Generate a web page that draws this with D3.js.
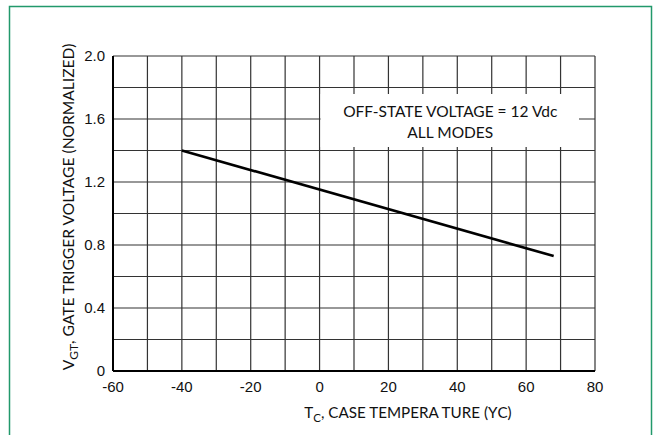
<!DOCTYPE html>
<html><head><meta charset="utf-8">
<script src="https://cdn.jsdelivr.net/npm/d3@7"></script>
<style>body{margin:0;background:#fff}svg{display:block}</style>
</head><body>
<svg id="c" width="659" height="435"></svg>
<script>
const tempC = [-40, 68];
const vgtNorm = [1.40, 0.73];
const xTicks = [-60, -40, -20, 0, 20, 40, 60, 80];
const yTicks = [0, 0.4, 0.8, 1.2, 1.6, 2.0];
const xGrid = d3.range(-50, 81, 10);
const yGrid = d3.range(0.2, 2.01, 0.2);
const noteLines = ["OFF-STATE VOLTAGE = 12 Vdc", "ALL MODES"];

const svg = d3.select("#c");
const x = d3.scaleLinear().domain([-60, 80]).range([113, 595]);
const y = d3.scaleLinear().domain([0, 2]).range([371, 56]);
const titleFont = "Lato, 'Noto Sans', sans-serif";
const tickFont = "'Liberation Sans', Arial, sans-serif";

// green frame
svg.append("rect").attr("x", 9.5).attr("y", 6.5).attr("width", 642).attr("height", 440)
  .attr("fill", "none").attr("stroke", "#22996b").attr("stroke-width", 1.5);

const g = svg.append("g");
// grid
g.selectAll(".vg").data(xGrid).join("line")
  .attr("x1", d => x(d)).attr("x2", d => x(d)).attr("y1", y(2)).attr("y2", y(0))
  .attr("stroke", "#333").attr("stroke-width", 1.2);
g.selectAll(".hg").data(yGrid).join("line")
  .attr("x1", x(-60)).attr("x2", x(80)).attr("y1", d => y(d)).attr("y2", d => y(d))
  .attr("stroke", "#333").attr("stroke-width", 1.2);

// note box
const bx0 = x(0), bx1 = 579, by0 = 94, by1 = 147;
g.append("rect").attr("x", bx0 + 1).attr("y", by0).attr("width", bx1 - bx0 - 1).attr("height", by1 - by0).attr("fill", "#fff");
g.selectAll(".note").data(noteLines).join("text")
  .attr("x", (bx0 + bx1) / 2 + 1).attr("y", (d, i) => 117 + i * 21)
  .attr("text-anchor", "middle").attr("font-family", titleFont).attr("font-size", 15.5)
  .attr("fill", "#111").text(d => d);

// axes lines (left & bottom thicker)
g.append("line").attr("x1", x(-60)).attr("x2", x(-60)).attr("y1", y(2)).attr("y2", y(0)).attr("stroke", "#000").attr("stroke-width", 2);
g.append("line").attr("x1", x(-60)).attr("x2", x(80)).attr("y1", y(0)).attr("y2", y(0)).attr("stroke", "#000").attr("stroke-width", 2);

// data line
g.append("path").datum(tempC.map((t, i) => [t, vgtNorm[i]]))
  .attr("d", d3.line().x(d => x(d[0])).y(d => y(d[1])))
  .attr("fill", "none").attr("stroke", "#000").attr("stroke-width", 2.6);

// tick labels
g.selectAll(".xt").data(xTicks).join("text")
  .attr("x", d => x(d)).attr("y", 392).attr("text-anchor", "middle")
  .attr("font-family", tickFont).attr("font-size", 15).attr("fill", "#111").text(d => d);
g.selectAll(".yt").data(yTicks).join("text")
  .attr("x", 105).attr("y", d => y(d) + 5).attr("text-anchor", "end")
  .attr("font-family", tickFont).attr("font-size", 15).attr("fill", "#111")
  .text(d => d === 0 ? "0" : d3.format(".1f")(d));

// x title
const xt = g.append("text").attr("x", 408).attr("y", 418).attr("text-anchor", "middle")
  .attr("font-family", titleFont).attr("font-size", 15.2).attr("fill", "#111");
xt.append("tspan").text("T");
xt.append("tspan").attr("font-size", 11.5).attr("dy", 4).text("C");
xt.append("tspan").attr("dy", -4).text(", CASE TEMPERA TURE (ΥC)");

// y title
const yt = g.append("text").attr("transform", "translate(74,207) rotate(-90)").attr("text-anchor", "middle")
  .attr("font-family", titleFont).attr("font-size", 15.6).attr("fill", "#111");
yt.append("tspan").text("V");
yt.append("tspan").attr("font-size", 12).attr("dy", 4).text("GT");
yt.append("tspan").attr("dy", -4).text(", GATE TRIGGER VOLTAGE (NORMALIZED)");
</script>
</body></html>
